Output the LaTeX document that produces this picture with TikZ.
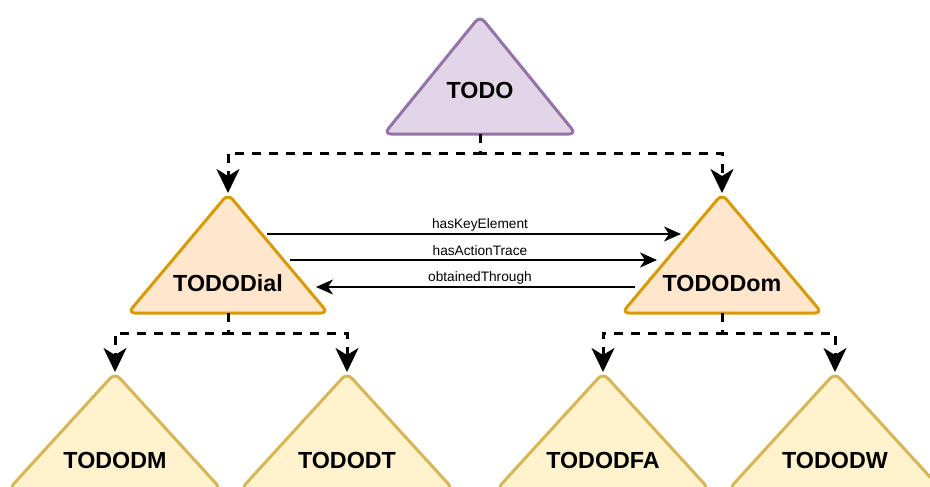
\documentclass[tikz,border=0pt]{standalone}
\usepackage{fontspec}
\setmainfont{Liberation Sans}
\usetikzlibrary{arrows.meta,calc}

\definecolor{purpleFill}{HTML}{E1D5E7}
\definecolor{purpleLine}{HTML}{9673A6}
\definecolor{orangeFill}{HTML}{FFE6CC}
\definecolor{orangeLine}{HTML}{D79B00}
\definecolor{yellowFill}{HTML}{FFF2CC}
\definecolor{yellowLine}{HTML}{D6B656}

\tikzset{
  tri/.style={line width=3pt, rounded corners=7pt, line join=round},
  rootTri/.style={tri, fill=purpleFill, draw=purpleLine},
  midTri/.style={tri, fill=orangeFill, draw=orangeLine},
  leafTri/.style={tri, fill=yellowFill, draw=yellowLine},
  title/.style={font=\bfseries\fontsize{23.3}{28}\selectfont, anchor=base, inner sep=0pt},
  rel/.style={line width=1.6pt, -{Stealth[length=17pt,width=15pt,inset=5pt]}},
  relname/.style={font=\fontsize{13.7}{16}\selectfont, anchor=base, inner sep=0pt},
  sub/.style={line width=3pt, dash pattern=on 9pt off 8pt,
    -{Stealth[length=24pt,width=23pt,inset=7pt]}},
}

\begin{document}
\begin{tikzpicture}[x=1pt, y=-1pt]
\useasboundingbox (0,0) rectangle (930,487);
\clip (0,0) rectangle (930,487);

% root
\coordinate (todo-apex) at (480,16);
\coordinate (todo-base) at (480,134);
\draw[rootTri] (todo-apex) -- (576,134) -- (384,134) -- cycle;
\node[title] (todo) at (480,99) {TODO};

% second level
\coordinate (dial-apex) at (228,194);
\coordinate (dial-base) at (228,313);
\draw[midTri] (dial-apex) -- (328,313) -- (128,313) -- cycle;
\node[title] (dial) at (228,291) {TODODial};

\coordinate (dom-apex) at (722,194);
\coordinate (dom-base) at (722,313);
\draw[midTri] (dom-apex) -- (822,313) -- (622,313) -- cycle;
\node[title] (dom) at (722,291) {TODODom};

% leaves
\coordinate (dm-apex) at (115,373);
\draw[leafTri] (dm-apex) -- (221,489) -- (9,489) -- cycle;
\node[title] (dm) at (115,468) {TODODM};

\coordinate (dt-apex) at (347,373);
\draw[leafTri] (dt-apex) -- (453,489) -- (241,489) -- cycle;
\node[title] (dt) at (347,468) {TODODT};

\coordinate (dfa-apex) at (603,373);
\draw[leafTri] (dfa-apex) -- (709,489) -- (497,489) -- cycle;
\node[title] (dfa) at (603,468) {TODODFA};

\coordinate (dw-apex) at (835,373);
\draw[leafTri] (dw-apex) -- (941,489) -- (729,489) -- cycle;
\node[title] (dw) at (835,468) {TODODW};

% hierarchy
\draw[sub] (todo-base) -- ++(0,19) -| ($(dial-apex)+(0,-1)$);
\draw[sub] (todo-base) -- ++(0,19) -| ($(dom-apex)+(0,-1)$);
\draw[sub] (dial-base) -- ++(0,20) -| ($(dm-apex)+(0,-1)$);
\draw[sub] (dial-base) -- ++(0,20) -| ($(dt-apex)+(0,-1)$);
\draw[sub] (dom-base) -- ++(0,20) -| ($(dfa-apex)+(0,-1)$);
\draw[sub] (dom-base) -- ++(0,20) -| ($(dw-apex)+(0,-1)$);

% relations between the two second-level concepts
\coordinate (dial-key) at (267,234);
\coordinate (dom-key) at (681,234);
\coordinate (dial-act) at (290,260);
\coordinate (dom-act) at (657,260);
\coordinate (dom-obt) at (635,287);
\coordinate (dial-obt) at (316,287);

\draw[rel] (dial-key) -- (dom-key);
\draw[rel] (dial-act) -- (dom-act);
\draw[rel] (dom-obt) -- (dial-obt);

\node[relname] (keyname) at (480,228) {hasKeyElement};
\node[relname] (actname) at (480,255) {hasActionTrace};
\node[relname] (obtname) at (480,281) {obtainedThrough};
\end{tikzpicture}
\end{document}
